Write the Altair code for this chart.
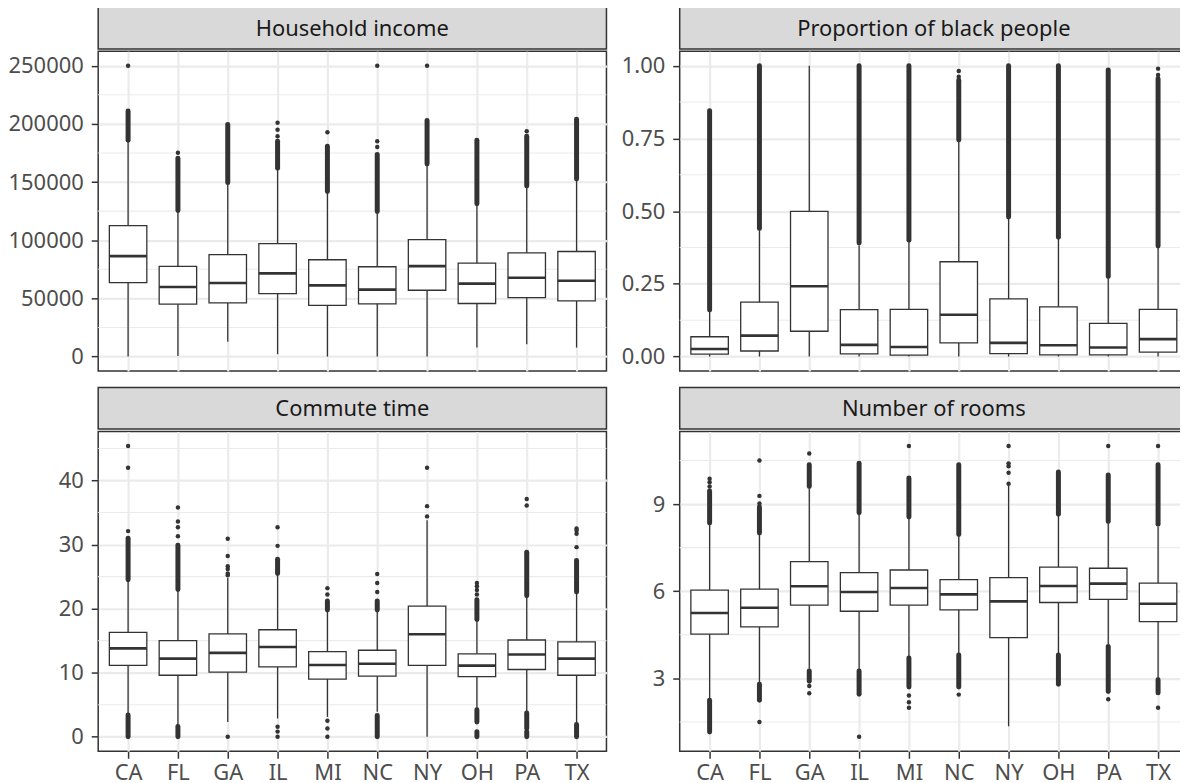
import altair as alt
import pandas as pd

STATES = ["CA", "FL", "GA", "IL", "MI", "NC", "NY", "OH", "PA", "TX"]

# ---------------- Household income ----------------
INC_LOWER = [0, 400, 12800, 2000, 0, 0, 0, 7700, 10600, 7700]
INC_Q1 = [63500, 45000, 46100, 54100, 43900, 45300, 57000, 45600, 50700, 47800]
INC_MED = [86300, 59800, 63200, 71500, 61200, 57500, 77700, 62700, 67800, 65200]
INC_Q3 = [112500, 77500, 87700, 97100, 83200, 77200, 100500, 80300, 89200, 90300]
INC_UPPER = [185000, 124700, 148600, 160900, 140900, 123800, 164600, 130400, 145800, 151800]
INC_DENSE = [("CA", 186000, 211000), ("FL", 125500, 170500), ("GA", 149500, 199500),
             ("IL", 161800, 185000), ("MI", 141800, 180800), ("NC", 124700, 173700),
             ("NY", 165500, 203000), ("OH", 131300, 186000), ("PA", 146700, 189300),
             ("TX", 152700, 204000)]
INC_POINTS = [("CA", 250000), ("FL", 175100), ("IL", 189300), ("IL", 195000), ("IL", 201000),
              ("MI", 192800), ("NC", 180200), ("NC", 185000), ("NC", 250000),
              ("NY", 250000), ("PA", 193600)]
INC_MAJOR = [0, 50000, 100000, 150000, 200000, 250000]
INC_MINOR = [25000, 75000, 125000, 175000, 225000]

# ---------------- Proportion of black people ----------------
BLK_LOWER = [0, 0, 0, 0, 0, 0, 0, 0, 0, 0]
BLK_Q1 = [0.008, 0.019, 0.087, 0.009, 0.005, 0.047, 0.010, 0.006, 0.006, 0.015]
BLK_MED = [0.026, 0.072, 0.2415, 0.040, 0.033, 0.1435, 0.047, 0.039, 0.031, 0.060]
BLK_Q3 = [0.068, 0.187, 0.499, 0.161, 0.162, 0.326, 0.198, 0.171, 0.114, 0.162]
BLK_UPPER = [0.154, 0.433, 1.0, 0.382, 0.393, 0.740, 0.473, 0.407, 0.268, 0.376]
BLK_DENSE = [("CA", 0.16, 0.845), ("FL", 0.44, 1.0), ("IL", 0.39, 1.0), ("MI", 0.40, 1.0),
             ("NC", 0.745, 0.95), ("NY", 0.48, 1.0), ("OH", 0.41, 1.0), ("PA", 0.275, 0.985),
             ("TX", 0.38, 0.955)]
BLK_POINTS = [("NC", 0.962), ("NC", 0.982), ("TX", 0.968), ("TX", 0.99)]
BLK_MAJOR = [0, 0.25, 0.5, 0.75, 1.0]
BLK_MINOR = [0.125, 0.375, 0.625, 0.875]

# ---------------- Commute time ----------------
COM_LOWER = [3.6, 1.8, 2.3, 2.85, 3.1, 3.9, 0, 4.4, 3.9, 2.1]
COM_Q1 = [11.15, 9.6, 10.1, 10.9, 9.0, 9.45, 11.15, 9.4, 10.5, 9.6]
COM_MED = [13.8, 12.2, 13.1, 14.0, 11.2, 11.4, 16.0, 11.1, 12.85, 12.2]
COM_Q3 = [16.3, 15.0, 16.05, 16.7, 13.3, 13.5, 20.4, 12.95, 15.1, 14.8]
COM_UPPER = [24.3, 22.8, 24.8, 25.3, 19.6, 19.6, 33.8, 18.1, 21.8, 22.4]
COM_DENSE = [("CA", 24.5, 31.0), ("FL", 23.0, 29.9), ("IL", 25.5, 27.7), ("MI", 19.8, 21.2),
             ("NC", 19.8, 21.2), ("OH", 18.3, 21.4), ("PA", 22.0, 28.8), ("TX", 22.6, 27.5),
             ("CA", 0, 3.4), ("FL", 0, 1.6), ("NC", 0, 3.3), ("OH", 2.3, 4.2), ("OH", 0, 0.8),
             ("PA", 1.3, 3.7), ("PA", 0, 0.8), ("TX", 0, 1.9)]
COM_POINTS = [("CA", 32.1), ("CA", 42.0), ("CA", 45.4),
              ("FL", 31.3), ("FL", 32.7), ("FL", 33.6), ("FL", 35.8),
              ("GA", 25.2), ("GA", 25.5), ("GA", 26.2), ("GA", 26.6), ("GA", 28.2), ("GA", 30.9), ("GA", 0),
              ("IL", 29.8), ("IL", 32.7), ("IL", 1.55), ("IL", 0.8), ("IL", 0),
              ("MI", 22.2), ("MI", 23.2), ("MI", 2.5), ("MI", 1.3), ("MI", 0),
              ("NC", 22.6), ("NC", 24.0), ("NC", 25.4),
              ("NY", 34.4), ("NY", 36.0), ("NY", 42.0),
              ("OH", 22.2), ("OH", 22.9), ("OH", 23.5), ("OH", 24.0),
              ("PA", 36.1), ("PA", 37.1),
              ("TX", 29.6), ("TX", 31.7), ("TX", 32.2), ("TX", 32.5)]
COM_MAJOR = [0, 10, 20, 30, 40]
COM_MINOR = [5, 15, 25, 35, 45]

# ---------------- Number of rooms ----------------
ROO_LOWER = [2.30, 2.87, 3.33, 3.31, 3.75, 3.84, 1.35, 3.84, 4.18, 3.0]
ROO_Q1 = [4.52, 4.77, 5.52, 5.31, 5.52, 5.36, 4.40, 5.61, 5.72, 4.95]
ROO_MED = [5.25, 5.43, 6.17, 5.97, 6.11, 5.89, 5.65, 6.18, 6.26, 5.57]
ROO_Q3 = [6.04, 6.07, 7.02, 6.64, 6.73, 6.40, 6.47, 6.83, 6.79, 6.28]
ROO_UPPER = [8.28, 7.96, 9.53, 8.62, 8.50, 7.91, 9.64, 8.60, 8.33, 8.22]
ROO_DENSE = [("CA", 8.35, 9.45), ("FL", 8.0, 8.9), ("GA", 9.6, 10.35), ("IL", 8.7, 10.4),
             ("MI", 8.55, 9.9), ("NC", 7.95, 10.35), ("OH", 8.65, 10.1), ("PA", 8.4, 10.0),
             ("TX", 8.3, 10.35),
             ("CA", 1.15, 2.25), ("FL", 2.25, 2.8), ("GA", 2.9, 3.25), ("IL", 2.45, 3.25),
             ("MI", 2.7, 3.7), ("NC", 2.7, 3.8), ("OH", 2.8, 3.8), ("PA", 2.55, 4.1),
             ("TX", 2.5, 2.95)]
ROO_POINTS = [("CA", 9.6), ("CA", 9.75), ("CA", 9.87),
              ("FL", 9.02), ("FL", 9.28), ("FL", 10.5), ("FL", 1.5),
              ("GA", 10.74), ("GA", 2.74), ("GA", 2.49),
              ("IL", 0.99),
              ("MI", 11.0), ("MI", 2.41), ("MI", 2.18), ("MI", 1.99),
              ("NC", 2.44),
              ("NY", 9.7), ("NY", 10.08), ("NY", 10.3), ("NY", 10.4), ("NY", 11.0),
              ("PA", 11.0), ("PA", 2.28),
              ("TX", 11.0), ("TX", 1.99)]
ROO_MAJOR = [3, 6, 9]
ROO_MINOR = [1.5, 4.5, 7.5, 10.5]

TITLES = ["Household income", "Proportion of black people", "Commute time", "Number of rooms"]

FONT = "Noto Sans"
FS = 22
DARK = "#333333"
GRID = "#EBEBEB"
PW, PH = 510, 321
BOX_W = 37.6


def panel(lower, q1, med, q3, upper, dense, points, major, minor, fmt, bottom, extent):
    box_df = pd.DataFrame({"state": STATES, "lower": lower, "q1": q1, "med": med,
                           "q3": q3, "upper": upper})
    dense_df = pd.DataFrame(dense, columns=["state", "lo", "hi"])
    pts_df = pd.DataFrame(points, columns=["state", "v"])
    minor_df = pd.DataFrame({"v": minor})

    allv = lower + upper + list(dense_df["lo"]) + list(dense_df["hi"]) + list(pts_df["v"])
    lo, hi = min(allv), max(allv)
    pad = 0.05 * (hi - lo)
    yscale = alt.Scale(domain=[lo - pad, hi + pad], nice=False, zero=False)
    yaxis = alt.Axis(title=None, values=major, format=fmt, domain=False, grid=True,
                     gridColor=GRID, gridWidth=2.2, tickColor=DARK, tickSize=7, tickWidth=1.5,
                     labelColor="#4D4D4D", labelFont=FONT, labelFontSize=FS, labelPadding=8,
                     minExtent=extent, maxExtent=extent)
    if bottom:
        xaxis = alt.Axis(title=None, labelAngle=0, domain=False, grid=True, gridColor=GRID,
                         gridWidth=2.2, tickColor=DARK, tickSize=7, tickWidth=1.5,
                         labelColor="#4D4D4D", labelFont=FONT, labelFontSize=FS, labelPadding=4)
    else:
        xaxis = alt.Axis(title=None, labels=False, ticks=False, domain=False, grid=True,
                         gridColor=GRID, gridWidth=2.2, minExtent=0, maxExtent=0)
    xenc = alt.X("state:N", scale=alt.Scale(type="point", padding=0.6, domain=STATES), axis=xaxis)

    minor_l = alt.Chart(minor_df).mark_rule(color=GRID, strokeWidth=1.1).encode(
        y=alt.Y("v:Q", scale=yscale, axis=yaxis))
    whisk = alt.Chart(box_df).mark_rule(color=DARK, strokeWidth=1.3, opacity=1).encode(
        x=xenc, y=alt.Y("lower:Q", scale=yscale, axis=yaxis), y2="upper:Q")
    box = alt.Chart(box_df).mark_bar(fill="white", stroke=DARK, strokeWidth=1.3, opacity=1,
                                      size=BOX_W).encode(
        x=xenc, y=alt.Y("q1:Q", scale=yscale, axis=yaxis), y2="q3:Q")
    medl = alt.Chart(box_df).mark_tick(color=DARK, thickness=2.6, size=BOX_W, opacity=1,
                                       orient="horizontal").encode(
        x=xenc, y=alt.Y("med:Q", scale=yscale, axis=yaxis))
    dens = alt.Chart(dense_df).mark_rule(color=DARK, strokeWidth=5, strokeCap="round",
                                         opacity=1).encode(
        x=xenc, y=alt.Y("lo:Q", scale=yscale, axis=yaxis), y2="hi:Q")
    pts = alt.Chart(pts_df).mark_circle(color=DARK, size=20, opacity=1).encode(
        x=xenc, y=alt.Y("v:Q", scale=yscale, axis=yaxis))
    return alt.layer(minor_l, whisk, box, medl, dens, pts).properties(width=PW, height=PH)


def strip(title, h):
    df = pd.DataFrame({"t": [title]})
    return alt.Chart(df).mark_text(font=FONT, fontSize=FS, color="#1A1A1A",
                                   baseline="middle", align="center").encode(
        text="t:N", x=alt.value(PW / 2), y=alt.value(h / 2 + 1)
    ).properties(width=PW, height=h,
                 view=alt.ViewBackground(fill="#D9D9D9", stroke=DARK, strokeWidth=1.5))


p1 = panel(INC_LOWER, INC_Q1, INC_MED, INC_Q3, INC_UPPER, INC_DENSE, INC_POINTS,
           INC_MAJOR, INC_MINOR, "d", False, 91)
p2 = panel(BLK_LOWER, BLK_Q1, BLK_MED, BLK_Q3, BLK_UPPER, BLK_DENSE, BLK_POINTS,
           BLK_MAJOR, BLK_MINOR, ".2f", False, 62)
p3 = panel(COM_LOWER, COM_Q1, COM_MED, COM_Q3, COM_UPPER, COM_DENSE, COM_POINTS,
           COM_MAJOR, COM_MINOR, "d", True, 91)
p4 = panel(ROO_LOWER, ROO_Q1, ROO_MED, ROO_Q3, ROO_UPPER, ROO_DENSE, ROO_POINTS,
           ROO_MAJOR, ROO_MINOR, "d", True, 62)

H1, H2, ROWGAP = 41.75, 41.5, 14.5
col1 = alt.vconcat(alt.vconcat(strip(TITLES[0], H1), p1, spacing=0),
                   alt.vconcat(strip(TITLES[2], H2), p3, spacing=0), spacing=ROWGAP)
col2 = alt.vconcat(alt.vconcat(strip(TITLES[1], H1), p2, spacing=0),
                   alt.vconcat(strip(TITLES[3], H2), p4, spacing=0), spacing=ROWGAP)

chart = alt.hconcat(col1, col2, spacing=8.5).properties(
    padding={"left": -1.5, "top": -3, "right": -9.5, "bottom": -1}, background="white"
).configure_view(stroke=DARK, strokeWidth=1.5, fill="white")

chart.save("out.html", embed_options={"renderer": "svg", "actions": False})
